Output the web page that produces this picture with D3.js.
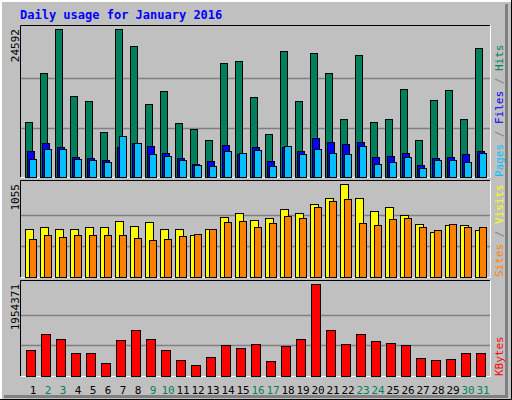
<!DOCTYPE html>
<html><head><meta charset="utf-8">
<script src="https://cdn.jsdelivr.net/npm/d3@7"></script>
<style>body{margin:0;background:#fff}</style>
</head><body><div id="chart"></div>
<script>
var days = d3.range(1, 32);
var weekend = [2, 3, 9, 10, 16, 17, 23, 24, 30, 31];
var hits = [9080,17260,24592,13420,12590,7410,24550,21770,12090,14260,8910,7910,6080,18930,19270,13260,7080,20930,12590,20600,17260,9580,20270,9080,9580,14590,6080,12750,14420,9580,21430];
var files = [4240,5570,4910,3400,3240,2900,4910,5570,5070,4070,3240,2240,2740,5240,3900,4910,2740,4910,4240,6410,5740,5410,5740,3400,3570,4070,2070,3240,3400,3900,4240];
var pages = [3070,4570,4570,3070,2900,2570,6740,5570,3900,3570,2900,2070,1900,4240,4070,4410,1900,5070,3740,4570,4070,3740,5070,2240,2570,3400,1570,2900,2900,2570,4070];
var visits = [550,562,539,550,562,562,631,573,619,550,550,482,550,677,722,642,665,768,722,826,894,1055,894,745,791,700,596,505,585,585,528];
var sites = [436,482,459,482,482,482,482,447,424,436,470,493,539,619,631,562,608,688,665,791,860,883,608,585,654,665,562,528,596,562,562];
var kbytes = [542000,884000,777000,478000,478000,285000,756000,970000,777000,542000,350000,243000,414000,649000,585000,670000,328000,628000,777000,1954371,970000,670000,884000,735000,692000,649000,392000,350000,371000,499000,499000];

var W = 512, H = 400;
var svg = d3.select("#chart").append("svg").attr("width", W).attr("height", H)
	.style("font-family", "'DejaVu Sans Mono', monospace");

// background and bevel
svg.append("rect").attr("width", W).attr("height", H).attr("fill", "#c0c0c0");
svg.append("path").attr("d", "M0.5,399.5V0.5H511.5").attr("fill", "none").attr("stroke", "#fff").attr("stroke-width", 3);
svg.append("path").attr("d", "M4,396.5H506.5V4").attr("fill", "none").attr("stroke", "#808080").attr("stroke-width", 3);
svg.append("path").attr("d", "M0,399.5H511.5V0").attr("fill", "none").attr("stroke", "#000");

svg.append("text").attr("x", 20).attr("y", 19).attr("fill", "#0000ff")
	.style("font-weight", "bold").style("font-size", "12px").text("Daily usage for January 2016");

var x = d3.scaleLinear().domain([1, 31]).range([25, 475]);

function panel(top, bottom, max, label, legend) {
	svg.append("path").attr("d", `M20.5,${bottom}V${top}.5H490`).attr("fill", "none").attr("stroke", "#000");
	svg.append("path").attr("d", `M21,${bottom}.5H490.5V${top}`).attr("fill", "none").attr("stroke", "#fff");
	var y = d3.scaleLinear().domain([0, max]).range([bottom, top + 4]);
	[1 / 3, 2 / 3].forEach(function(f) {
		var gy = Math.round(y(max * f)) + 0.5;
		svg.append("line").attr("x1", 21).attr("x2", 490).attr("y1", gy).attr("y2", gy)
			.attr("stroke", "#808080").attr("stroke-width", 1.5);
	});
	svg.append("text").attr("transform", `translate(19,${top + 4}) rotate(-90)`)
		.attr("text-anchor", "end").style("font-size", "11px").attr("fill", "#000").text(label);
	var t = svg.append("text").attr("transform", `translate(503,${bottom}) rotate(-90)`)
		.style("font-size", "11px");
	legend.forEach(function(p, i) {
		if (i) t.append("tspan").attr("fill", "#808080").text(" / ");
		t.append("tspan").attr("fill", p[1]).text(p[0]);
	});
	return y;
}

function bars(y, data, dx, w, color) {
	svg.append("g").selectAll("rect").data(data).enter().append("rect")
		.attr("x", (d, i) => x(i + 1) + dx + 0.5)
		.attr("y", d => Math.round(y(d)) + 0.5)
		.attr("width", w)
		.attr("height", d => y(0) - Math.round(y(d)))
		.attr("fill", color).attr("stroke", "#000");
}

var y1 = panel(25, 177, 24592, "24592", [["Pages", "#00c0ff"], ["Files", "#0000ff"], ["Hits", "#00805c"]]);
bars(y1, hits, 0, 7, "#00805c");
bars(y1, files, 2, 7, "#0000ff");
bars(y1, pages, 4, 7, "#00c0ff");

var y2 = panel(180, 277, 1055, "1055", [["Sites", "#ff8000"], ["Visits", "#ffff00"]]);
bars(y2, visits, 0, 8, "#ffff00");
bars(y2, sites, 4, 7, "#ff8000");

var y3 = panel(280, 376, 1954371, "1954371", [["KBytes", "#ff0000"]]);
bars(y3, kbytes, 1, 9, "#ff0000");

svg.append("g").selectAll("text").data(days).enter().append("text")
	.attr("x", d => x(d) + 8).attr("y", 394).attr("text-anchor", "middle")
	.style("font-size", "11px")
	.attr("fill", d => weekend.indexOf(d) >= 0 ? "#00805c" : "#000")
	.text(d => d);
</script>
</body></html>
